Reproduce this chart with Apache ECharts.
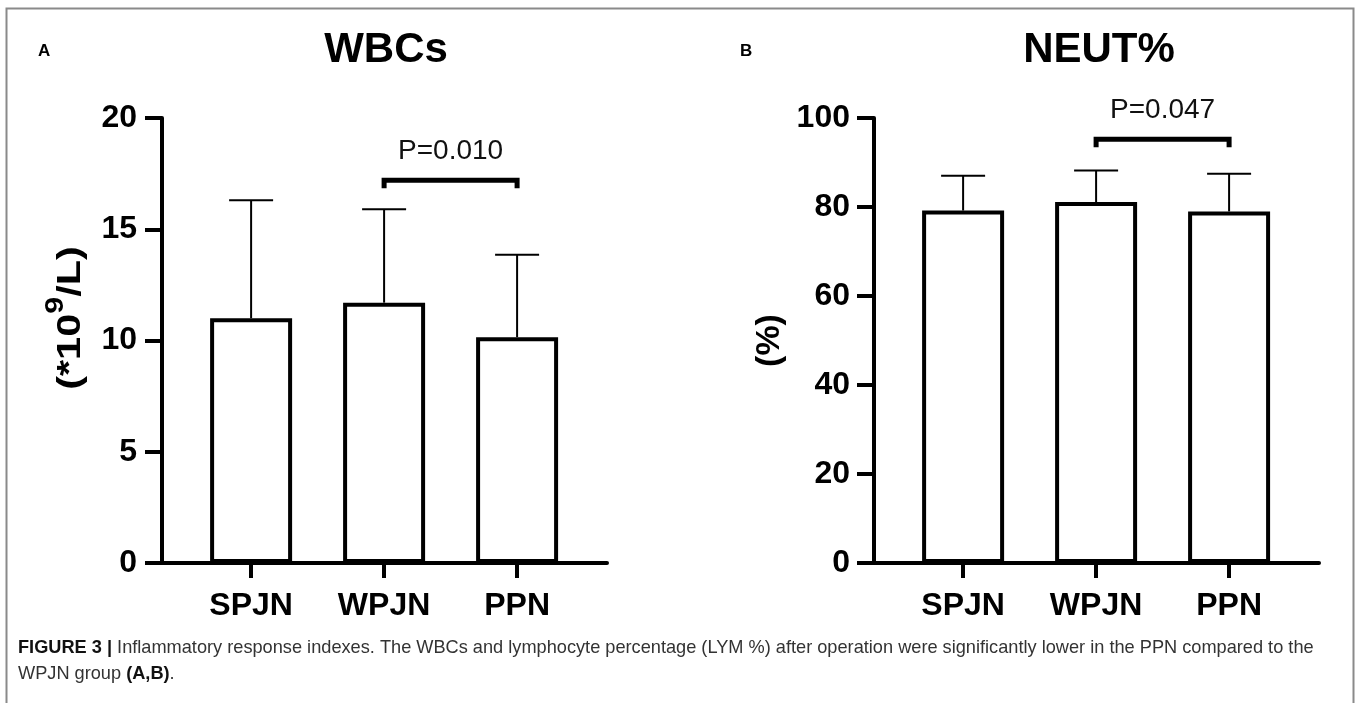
<!DOCTYPE html>
<html>
<head>
<meta charset="utf-8">
<script src="https://cdn.jsdelivr.net/npm/echarts@6/dist/echarts.min.js"></script>
<style>
html,body{margin:0;padding:0;background:#fff;}
#c{width:1360px;height:703px;}
</style>
</head>
<body>
<div id="c"></div>
<script>
// ---- data ----
const categories = ['SPJN', 'WPJN', 'PPN'];
const wbcMean = [11.0, 11.7, 10.15];
const wbcSD = [5.3, 4.2, 3.7];
const neutMean = [79.2, 81.1, 79.0];
const neutSD = [7.8, 7.1, 8.5];
const wbcTicks = [0, 5, 10, 15, 20];
const neutTicks = [0, 20, 40, 60, 80, 100];
const wbcBracket = [1, 2, 17.2];
const neutBracket = [1, 2, 95.2];
const wbcP = 'P=0.010';
const neutP = 'P=0.047';

const FONT = 'Liberation Sans, Arial, sans-serif';
const chart = echarts.init(document.getElementById('c'), null, {renderer: 'canvas'});

function xAxisCfg(gi, min, max) {
  return {
    type: 'value', gridIndex: gi, min: min, max: max,
    axisLine: {show: true, onZero: false, lineStyle: {color: '#000', width: 4}},
    axisTick: {show: true, customValues: [0, 1, 2], length: 15, lineStyle: {color: '#000', width: 4}},
    axisLabel: {show: true, customValues: [0, 1, 2], margin: 27,
      formatter: v => categories[Math.round(v)] || '',
      fontFamily: FONT, fontWeight: 'bold', fontSize: 32, color: '#000'},
    splitLine: {show: false}
  };
}
function yAxisCfg(gi, max, interval, name, nameGap, margin) {
  return {
    type: 'value', gridIndex: gi, min: 0, max: max, interval: interval,
    name: name, nameLocation: 'middle', nameGap: nameGap, nameRotate: 90,
    nameTextStyle: {fontFamily: FONT, fontWeight: 'bold', fontSize: 34, color: '#000'},
    axisLine: {show: true, onZero: false, lineStyle: {color: '#000', width: 4}},
    axisTick: {show: true, length: 17, lineStyle: {color: '#000', width: 4}},
    axisLabel: {fontFamily: FONT, fontWeight: 'bold', fontSize: 32, color: '#000', margin: margin},
    splitLine: {show: false}
  };
}

function errorSeries(gi, means, sds) {
  return {
    type: 'custom', xAxisIndex: gi, yAxisIndex: gi, z: 1,
    data: means.map((m, i) => [i, m, m + sds[i]]),
    renderItem: function (params, api) {
      const x = api.value(0);
      const p0 = api.coord([x, api.value(1)]);
      const p1 = api.coord([x, api.value(2)]);
      const hw = 22;
      return {type: 'group', children: [
        {type: 'line', shape: {x1: p0[0], y1: p0[1], x2: p1[0], y2: p1[1]}, style: {stroke: '#000', lineWidth: 2}},
        {type: 'line', shape: {x1: p1[0] - hw, y1: p1[1], x2: p1[0] + hw, y2: p1[1]}, style: {stroke: '#000', lineWidth: 2}}
      ]};
    }
  };
}
function bracketSeries(gi, br, label) {
  return {
    type: 'custom', xAxisIndex: gi, yAxisIndex: gi, z: 5,
    data: [br],
    renderItem: function (params, api) {
      const a = api.coord([api.value(0), api.value(2)]);
      const b = api.coord([api.value(1), api.value(2)]);
      const drop = 8;
      return {type: 'group', children: [
        {type: 'polyline', shape: {points: [[a[0], a[1] + drop], [a[0], a[1]], [b[0], b[1]], [b[0], b[1] + drop]]},
          style: {stroke: '#000', lineWidth: 5, fill: null}},
        {type: 'text', x: (a[0] + b[0]) / 2, y: a[1] - 15,
          style: {text: label, fontFamily: FONT, fontSize: 28, fill: '#111', align: 'center', verticalAlign: 'bottom'}}
      ]};
    }
  };
}
function barSeries(gi, means) {
  return {
    type: 'bar', xAxisIndex: gi, yAxisIndex: gi, z: 2, barWidth: 82,
    data: means.map((m, i) => [i, m]),
    itemStyle: {color: '#fff', borderColor: '#000', borderWidth: 4},
    silent: true
  };
}

const option = {
  backgroundColor: '#fff',
  animation: false,
  title: [
    {text: 'WBCs', left: 381, top: 24, textAlign: 'center',
      textStyle: {fontFamily: FONT, fontWeight: 'bold', fontSize: 42, color: '#000'}},
    {text: 'NEUT%', left: 1094, top: 24, textAlign: 'center',
      textStyle: {fontFamily: FONT, fontWeight: 'bold', fontSize: 42, color: '#000'}},
    {text: 'A', left: 33, top: 38, textStyle: {fontFamily: FONT, fontWeight: 'bold', fontSize: 17, color: '#000'}},
    {text: 'B', left: 735, top: 38, textStyle: {fontFamily: FONT, fontWeight: 'bold', fontSize: 17, color: '#000'}}
  ],
  grid: [
    {left: 162, top: 118, width: 445, height: 445},
    {left: 874, top: 118, width: 445, height: 445}
  ],
  xAxis: [xAxisCfg(0, -0.67, 2.676), xAxisCfg(1, -0.67, 2.676)],
  yAxis: [
    yAxisCfg(0, 20, 5, '', 60, 25),
    yAxisCfg(1, 100, 20, '(%)', 87, 24)
  ],
  series: [
    errorSeries(0, wbcMean, wbcSD),
    barSeries(0, wbcMean),
    bracketSeries(0, wbcBracket, wbcP),
    errorSeries(1, neutMean, neutSD),
    barSeries(1, neutMean),
    bracketSeries(1, neutBracket, neutP)
  ],
  graphic: [
    {type: 'rect', shape: {x: 6.5, y: 8.5, width: 1347, height: 720}, style: {fill: null, stroke: '#8a8a8a', lineWidth: 2}, silent: true},
    {type: 'text', x: 66, y: 318, rotation: Math.PI / 2, scaleX: 1.22, style: {
      text: '{m|(*10}{sup|9}{m|/L)}', fontFamily: FONT, fontWeight: 'bold', fontSize: 34, fill: '#000',
      align: 'center', verticalAlign: 'middle',
      rich: {
        m: {fontFamily: FONT, fontWeight: 'bold', fontSize: 34, lineHeight: 44, fill: '#000', verticalAlign: 'bottom'},
        sup: {fontFamily: FONT, fontWeight: 'bold', fontSize: 25, lineHeight: 25, fill: '#000', verticalAlign: 'top'}
      }
    }},
    {type: 'text', left: 18, top: 635, style: {
      text: '{b|FIGURE 3 |} Inflammatory response indexes. The WBCs and lymphocyte percentage (LYM %) after operation were significantly lower in the PPN compared to the\nWPJN group {b|(A,B)}.',
      fontFamily: FONT, fontSize: 18.2, fill: '#333', lineHeight: 26,
      rich: {b: {fontFamily: FONT, fontWeight: 'bold', fontSize: 18.2, fill: '#111', lineHeight: 26}}
    }}
  ]
};
chart.setOption(option);
</script>
</body>
</html>
